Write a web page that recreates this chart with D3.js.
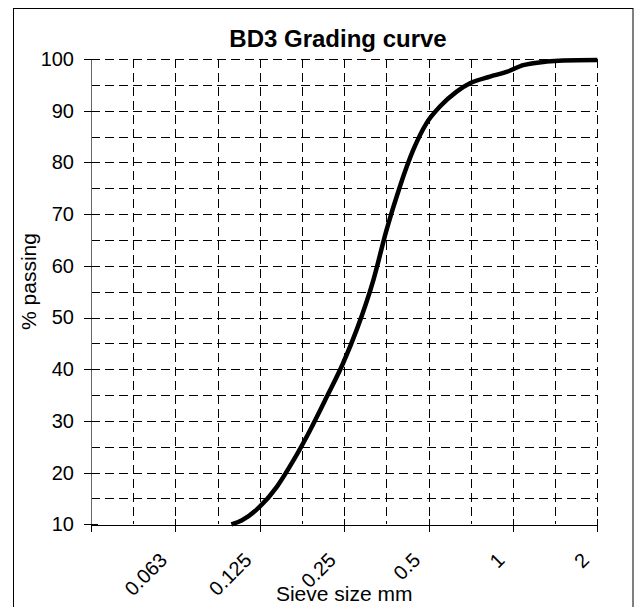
<!DOCTYPE html>
<html>
<head>
<meta charset="utf-8">
<script src="https://cdn.jsdelivr.net/npm/d3@7"></script>
<style>
html,body{margin:0;padding:0;background:#fff;}
svg{display:block;font-family:"Liberation Sans",Arial,sans-serif;}
</style>
</head>
<body>
<svg id="chart" width="639" height="607"></svg>
<script>
// ---- data ----
const sieveSizes = [0.099, 0.108, 0.125, 0.144, 0.165, 0.189, 0.217, 0.248, 0.277, 0.318, 0.354, 0.395, 0.441, 0.492, 0.549, 0.63, 0.703, 0.828, 0.949, 1.088, 1.319, 1.512, 2];
const percentPassing = [10, 10.8, 13.4, 17.3, 22.4, 28.2, 34.7, 41.2, 47.6, 57.3, 66.9, 75.3, 82.4, 87.6, 90.8, 93.7, 95.3, 96.6, 97.5, 98.8, 99.5, 99.7, 99.8];
const xTickValues = [0.03125, 0.0625, 0.125, 0.25, 0.5, 1, 2];
const xTickLabels = ["", "0.063", "0.125", "0.25", "0.5", "1", "2"];
const yTickValues = [10, 20, 30, 40, 50, 60, 70, 80, 90, 100];
const yGridValues = [15, 20, 25, 30, 35, 40, 45, 50, 55, 60, 65, 70, 75, 80, 85, 90, 95, 100];
const xGridValues = [0.03125*Math.SQRT2, 0.0625, 0.0625*Math.SQRT2, 0.125, 0.125*Math.SQRT2, 0.25, 0.25*Math.SQRT2, 0.5, 0.5*Math.SQRT2, 1, Math.SQRT2, 2];
const chartTitle = "BD3 Grading curve";
const xTitle = "Sieve size mm";
const yTitle = "% passing";

// ---- layout ----
const svg = d3.select("#chart");
const pLeft = 91, pRight = 597.3, pTop = 59, pBottom = 524.3;

const x = d3.scaleLog().base(2).domain([0.03125, 2]).range([pLeft, pRight]);
const y = d3.scaleLinear().domain([10, 100]).range([pBottom, pTop]);

// outer frame
svg.append("rect").attr("x", 13.5).attr("y", 8.5).attr("width", 619.5).attr("height", 610)
  .attr("fill", "#fff").attr("stroke", "#000").attr("stroke-width", 1);

// grid
const grid = svg.append("g").attr("stroke", "#000").attr("stroke-width", 1)
  .attr("stroke-dasharray", "9,5").attr("shape-rendering", "crispEdges");
grid.selectAll("line.h").data(yGridValues).join("line").attr("class", "h")
  .attr("x1", pLeft).attr("x2", pRight)
  .attr("y1", d => Math.round(y(d)) + 0.5).attr("y2", d => Math.round(y(d)) + 0.5);
grid.selectAll("line.v").data(xGridValues).join("line").attr("class", "v")
  .attr("y1", pTop).attr("y2", pBottom)
  .attr("x1", d => Math.round(x(d)) + 0.5).attr("x2", d => Math.round(x(d)) + 0.5);

// x axis
const xAxis = d3.axisBottom(x).tickValues(xTickValues).tickSize(7).tickSizeOuter(0)
  .tickFormat((d, i) => xTickLabels[i]);
const gx = svg.append("g").attr("transform", `translate(0,${Math.round(pBottom) + 0.5})`).call(xAxis);
gx.select(".domain").attr("stroke", "#000").attr("shape-rendering", "crispEdges");
gx.selectAll(".tick line").attr("y1", -6).attr("y2", 7).attr("stroke", "#000").attr("shape-rendering", "crispEdges");
gx.selectAll(".tick text")
  .attr("font-size", 20).attr("fill", "#000")
  .attr("text-anchor", "end")
  .attr("dy", null).attr("y", null)
  .attr("transform", "translate(-7.5,37) rotate(-45)");

// y axis
const yAxis = d3.axisLeft(y).tickValues(yTickValues).tickSize(7).tickSizeOuter(0).tickPadding(10);
const gy = svg.append("g").attr("transform", `translate(${pLeft},0)`).call(yAxis);
gy.select(".domain").attr("stroke", "#666").attr("shape-rendering", "crispEdges");
gy.selectAll(".tick line").attr("x1", -7).attr("x2", 7).attr("stroke", "#000").attr("shape-rendering", "crispEdges");
gy.selectAll(".tick text").attr("font-size", 20).attr("fill", "#000");

// curve
const pts = sieveSizes.map((s, i) => [x(s), y(percentPassing[i])]);
svg.append("path")
  .attr("d", d3.line().curve(d3.curveMonotoneX)(pts))
  .attr("fill", "none").attr("stroke", "#000").attr("stroke-width", 4.5)
  .attr("stroke-linejoin", "round");

// titles
svg.append("text").attr("x", 338).attr("y", 47).attr("text-anchor", "middle")
  .attr("font-size", 24).attr("font-weight", "bold").text(chartTitle);
svg.append("text").attr("x", (pLeft + pRight) / 2).attr("y", 601).attr("text-anchor", "middle")
  .attr("font-size", 21).text(xTitle);
svg.append("text").attr("transform", "translate(36,281.5) rotate(-90)")
  .attr("text-anchor", "middle").attr("font-size", 21).text(yTitle);
</script>
</body>
</html>
